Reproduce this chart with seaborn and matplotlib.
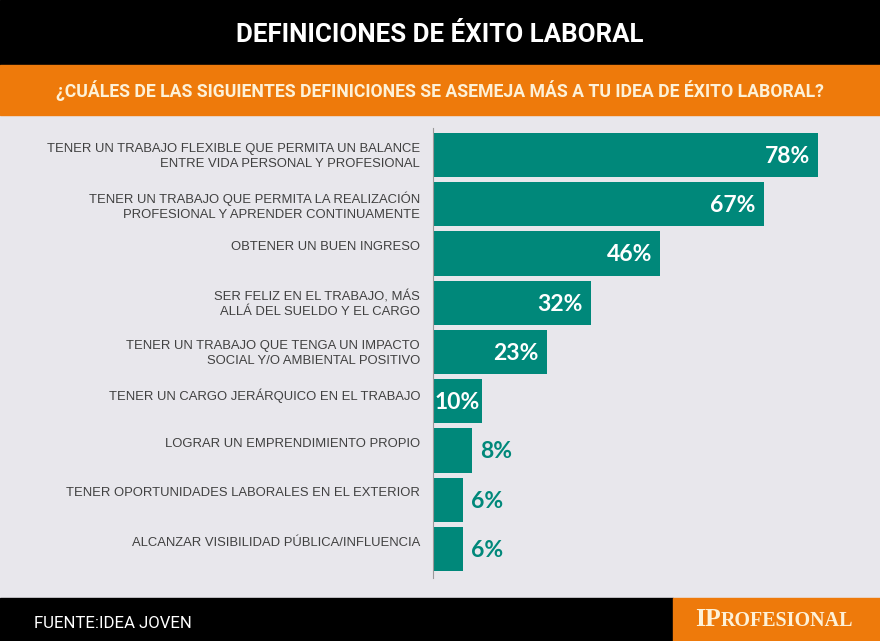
# Definiciones de exito laboral - horizontal bar chart
import matplotlib
matplotlib.use("Agg")
import matplotlib.pyplot as plt
import seaborn as sns
from matplotlib import font_manager
from matplotlib.patches import Rectangle
from matplotlib.transforms import offset_copy

# Data
labels = [
    "TENER UN TRABAJO FLEXIBLE QUE PERMITA UN BALANCE\nENTRE VIDA PERSONAL Y PROFESIONAL",
    "TENER UN TRABAJO QUE PERMITA LA REALIZACIÓN\nPROFESIONAL Y APRENDER CONTINUAMENTE",
    "OBTENER UN BUEN INGRESO",
    "SER FELIZ EN EL TRABAJO, MÁS\nALLÁ DEL SUELDO Y EL CARGO",
    "TENER UN TRABAJO QUE TENGA UN IMPACTO\nSOCIAL Y/O AMBIENTAL POSITIVO",
    "TENER UN CARGO JERÁRQUICO EN EL TRABAJO",
    "LOGRAR UN EMPRENDIMIENTO PROPIO",
    "TENER OPORTUNIDADES LABORALES EN EL EXTERIOR",
    "ALCANZAR VISIBILIDAD PÚBLICA/INFLUENCIA",
]
values = [78, 67, 46, 32, 23, 10, 8, 6, 6]

title = "DEFINICIONES DE ÉXITO LABORAL"
subtitle = "¿CUÁLES DE LAS SIGUIENTES DEFINICIONES SE ASEMEJA MÁS A TU IDEA DE ÉXITO LABORAL?"
source = "FUENTE:IDEA JOVEN"

# Colours
teal = "#00887a"
orange = "#ee7a0b"
bg = "#e8e7ec"
cream = "#fdf1d8"

sns.set_theme(style="white")
names = {f.name for f in font_manager.fontManager.ttflist}
narrow = "Liberation Sans Narrow" if "Liberation Sans Narrow" in names else "Roboto"
plt.rcParams["font.family"] = ["Liberation Sans", "DejaVu Sans"]

W, H = 880, 641
fig = plt.figure(figsize=(W / 100, H / 100), dpi=100, facecolor=bg)


def fx(px):
    return px / W


def fy(py):
    return 1 - py / H


def band(x0, y0, x1, y1, color):
    fig.patches.append(Rectangle((fx(x0), fy(y1)), (x1 - x0) / W, (y1 - y0) / H,
                                 transform=fig.transFigure, color=color, zorder=0))


def fit_width(t, target):
    r = fig.canvas.get_renderer()
    w = t.get_window_extent(r).width
    t.set_fontsize(t.get_fontsize() * target / w)


# Header and footer bands
band(0, 0, W, 65, "#000000")
band(0, 65, W, 115, orange)
band(0, 598, 673, H, "#000000")
band(673, 598, W, H, orange)

t = fig.text(0.5, fy(42), title, ha="center", va="baseline", color="white",
             fontsize=20, fontweight="bold", family=[narrow, "DejaVu Sans"])
fit_width(t, 406)
t = fig.text(0.5, fy(97), subtitle, ha="center", va="baseline", color=cream,
             fontsize=12, fontweight="bold", family=[narrow, "DejaVu Sans"])
fit_width(t, 767)
t = fig.text(fx(34), fy(628), source, ha="left", va="baseline", color="white",
             fontsize=12, family=[narrow, "DejaVu Sans"])
fit_width(t, 157)

# Logo with small caps look
logo1 = fig.text(fx(695), fy(626), "IP", ha="left", va="baseline", color=cream,
                 fontsize=18.5, fontweight="bold", family=["Liberation Serif", "DejaVu Serif"])
r = fig.canvas.get_renderer()
x_end = logo1.get_window_extent(r).x1
logo2 = fig.text(x_end / W, fy(626), "ROFESIONAL", ha="left", va="baseline", color=cream,
                 fontsize=14.5, fontweight="bold", family=["Liberation Serif", "DejaVu Serif"])
# stretch the smaller part so the logo ends where the reference does
w2 = logo2.get_window_extent(r).width
logo2.set_fontsize(logo2.get_fontsize() * (853 - x_end) / w2)

# Bar chart
ax = fig.add_axes([fx(433), fy(578), 420 / W, 450 / H])
ax.set_facecolor("none")
sns.barplot(x=values, y=labels, orient="h", color=teal, saturation=1,
            width=0.9, linewidth=0, ax=ax)
ax.set_xlim(0, 420 / 4.936)
ax.set_ylim(8.589, -0.548)
ax.set_xticks([])
ax.set_yticks([])
ax.set_xlabel("")
ax.set_ylabel("")
for s in ["top", "right", "bottom"]:
    ax.spines[s].set_visible(False)
ax.spines["left"].set_color("#9a9a9a")
ax.spines["left"].set_linewidth(0.8)

label_tr = offset_copy(ax.get_yaxis_transform(), fig=fig, x=-13, y=0, units="dots")
for i, lab in enumerate(labels):
    ax.text(0, i - 0.25, lab, transform=label_tr, ha="right", va="top",
            fontsize=9.4, color="#404040", linespacing=1.33)

for i, v in enumerate(values):
    if v >= 10:
        shift = -8 if v >= 20 else -3
        tr = offset_copy(ax.transData, fig=fig, x=shift, y=0, units="dots")
        ax.text(v, i + 0.03, f"{v}%", transform=tr, ha="right", va="center",
                fontsize=16.5, fontweight="bold", color="white", family=["Lato", "DejaVu Sans"])
    else:
        tr = offset_copy(ax.transData, fig=fig, x=8, y=0, units="dots")
        ax.text(v, i + 0.03, f"{v}%", transform=tr, ha="left", va="center",
                fontsize=16.5, fontweight="bold", color=teal, family=["Lato", "DejaVu Sans"])

fig.savefig("out.png", dpi=100, facecolor=bg)
